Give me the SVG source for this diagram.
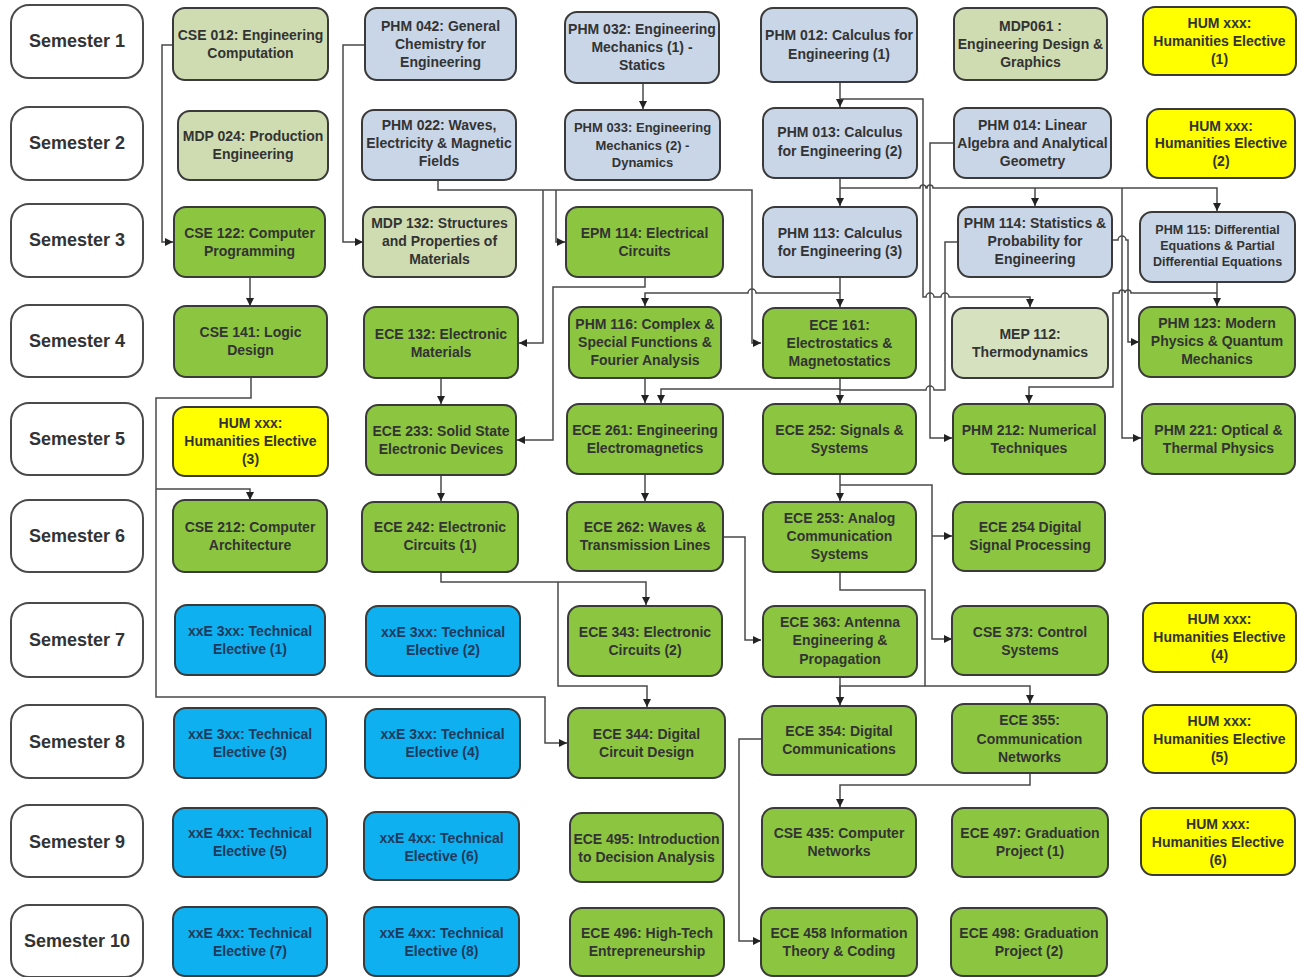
<svg xmlns="http://www.w3.org/2000/svg" width="1303" height="977" viewBox="0 0 1303 977">
<style>
rect{stroke:#3a3a3a;stroke-width:2}
.sem rect{fill:#fff;stroke:#4a4a4a}
.lg rect{fill:#cfdcb1}
.lb rect{fill:#c9d6e7}
.gr rect{fill:#8cc641}
.bl rect{fill:#0fb0ef}
.ye rect{fill:#ffff00}
text{font-family:"Liberation Sans",Arial,sans-serif;font-weight:bold;font-size:14px;fill:#333;text-anchor:middle;dominant-baseline:central}
.sem text{font-size:18px}
.bl text{fill:#1d3a5c}
.sm text{font-size:13px}
.xs text{font-size:12.5px}
#connectors path{fill:none;stroke:#4a4a4a;stroke-width:1.5}
</style>
<defs>
<marker id="ah" viewBox="0 0 10 10" refX="10" refY="5" markerWidth="8" markerHeight="8" markerUnits="userSpaceOnUse" orient="auto"><path d="M0,0 L10,5 L0,10 z" fill="#222"/></marker>
</defs>
<rect x="0" y="0" width="1303" height="977" fill="#fff" style="stroke:none"/>

<g id="connectors">
<path d="M173,45 H162 V242 H173" marker-end="url(#ah)"/>
<path d="M365,45 H343 V242 H363" marker-end="url(#ah)"/>
<path d="M643,83 V109" marker-end="url(#ah)"/>
<path d="M840,80 V107" marker-end="url(#ah)"/>
<path d="M840,99 H923 V297 H926 a4,4 0 0 1 8,0 H941 a4,4 0 0 1 8,0 H1030 V307" marker-end="url(#ah)"/>
<path d="M840,178 V206" marker-end="url(#ah)"/>
<path d="M840,188 H920 a3,3 0 0 1 6,0 H927 a3,3 0 0 1 6,0 H1217 V211" marker-end="url(#ah)"/>
<path d="M1035,188 V206" marker-end="url(#ah)"/>
<path d="M1122,188 V438 H1141" marker-end="url(#ah)"/>
<path d="M954,143 H930 V438 H952" marker-end="url(#ah)"/>
<path d="M438,180 V190 H752 V343 H761" marker-end="url(#ah)"/>
<path d="M556,190 V242 H565" marker-end="url(#ah)"/>
<path d="M543,190 V343 H519" marker-end="url(#ah)"/>
<path d="M645,277 V287 H553 V440 H517" marker-end="url(#ah)"/>
<path d="M840,277 V307" marker-end="url(#ah)"/>
<path d="M840,293 H756 a4,4 0 0 0 -8,0 H645 V306" marker-end="url(#ah)"/>
<path d="M840,378 V403" marker-end="url(#ah)"/>
<path d="M840,389 H661 V403" marker-end="url(#ah)"/>
<path d="M958,242 H945 V390 H934 a4,4 0 0 0 -8,0 H840"/>
<path d="M1112,240 H1118 a4,4 0 0 1 8,0 H1128 V342 H1139" marker-end="url(#ah)"/>
<path d="M1217,282 V306" marker-end="url(#ah)"/>
<path d="M1217,293 H1131 a3,3 0 0 0 -6,0 a3,3 0 0 0 -6,0 H1113 V387 H1029 V403" marker-end="url(#ah)"/>
<path d="M645,378 V403" marker-end="url(#ah)"/>
<path d="M441,378 V404" marker-end="url(#ah)"/>
<path d="M441,475 V501" marker-end="url(#ah)"/>
<path d="M250,277 V306" marker-end="url(#ah)"/>
<path d="M251,377 V398 H156 V697 H545 V743 H567" marker-end="url(#ah)"/>
<path d="M156,489 H250 V500" marker-end="url(#ah)"/>
<path d="M441,572 V582 H646 V605" marker-end="url(#ah)"/>
<path d="M558,582 V686 H647 V707" marker-end="url(#ah)"/>
<path d="M645,474 V501" marker-end="url(#ah)"/>
<path d="M722,537 H745 V640 H761" marker-end="url(#ah)"/>
<path d="M840,474 V501" marker-end="url(#ah)"/>
<path d="M840,485 H932 V639 H952" marker-end="url(#ah)"/>
<path d="M932,536 H952" marker-end="url(#ah)"/>
<path d="M840,572 V590 H925 V686 H1030 V703" marker-end="url(#ah)"/>
<path d="M925,686 H840 V705" marker-end="url(#ah)"/>
<path d="M840,677 V705" marker-end="url(#ah)"/>
<path d="M762,739 H739 V941 H761" marker-end="url(#ah)"/>
<path d="M1030,773 V785 H840 V807" marker-end="url(#ah)"/>
</g>

<!-- Semester labels -->
<g id="sem1" class="sem"><rect x="11" y="5" width="132" height="73" rx="18"/><text x="77" y="41">Semester 1</text></g>
<g id="sem2" class="sem"><rect x="11" y="107" width="132" height="73" rx="18"/><text x="77" y="143">Semester 2</text></g>
<g id="sem3" class="sem"><rect x="11" y="204" width="132" height="73" rx="18"/><text x="77" y="240">Semester 3</text></g>
<g id="sem4" class="sem"><rect x="11" y="305" width="132" height="72" rx="18"/><text x="77" y="341">Semester 4</text></g>
<g id="sem5" class="sem"><rect x="11" y="403" width="132" height="72" rx="18"/><text x="77" y="439">Semester 5</text></g>
<g id="sem6" class="sem"><rect x="11" y="500" width="132" height="72" rx="18"/><text x="77" y="536">Semester 6</text></g>
<g id="sem7" class="sem"><rect x="11" y="603" width="132" height="74" rx="18"/><text x="77" y="640">Semester 7</text></g>
<g id="sem8" class="sem"><rect x="11" y="705" width="132" height="73" rx="18"/><text x="77" y="742">Semester 8</text></g>
<g id="sem9" class="sem"><rect x="11" y="805" width="132" height="72" rx="18"/><text x="77" y="842">Semester 9</text></g>
<g id="sem10" class="sem"><rect x="11" y="905" width="132" height="72" rx="18"/><text x="77" y="941">Semester 10</text></g>

<!-- Row 1 -->
<g id="cse012" class="lg"><rect x="173" y="8" width="155" height="72" rx="12"/><text><tspan x="250.5" y="35">CSE 012: Engineering</tspan><tspan x="250.5" y="53">Computation</tspan></text></g>
<g id="phm042" class="lb"><rect x="365" y="8" width="151" height="72" rx="12"/><text><tspan x="440.5" y="26">PHM 042: General</tspan><tspan x="440.5" y="44">Chemistry for</tspan><tspan x="440.5" y="62">Engineering</tspan></text></g>
<g id="phm032" class="lb"><rect x="565" y="12" width="154" height="71" rx="12"/><text><tspan x="642" y="29">PHM 032: Engineering</tspan><tspan x="642" y="47">Mechanics (1) -</tspan><tspan x="642" y="65">Statics</tspan></text></g>
<g id="phm012" class="lb"><rect x="761" y="8" width="156" height="74" rx="12"/><text><tspan x="839" y="35">PHM 012: Calculus for</tspan><tspan x="839" y="54">Engineering (1)</tspan></text></g>
<g id="mdp061" class="lg"><rect x="954" y="8" width="153" height="72" rx="12"/><text><tspan x="1030.5" y="26">MDP061 :</tspan><tspan x="1030.5" y="44">Engineering Design &amp;</tspan><tspan x="1030.5" y="62">Graphics</tspan></text></g>
<g id="hum1" class="ye"><rect x="1143" y="7" width="153" height="68" rx="12"/><text><tspan x="1219.5" y="23">HUM xxx:</tspan><tspan x="1219.5" y="41">Humanities Elective</tspan><tspan x="1219.5" y="59">(1)</tspan></text></g>

<!-- Row 2 -->
<g id="mdp024" class="lg"><rect x="178" y="111" width="150" height="69" rx="12"/><text><tspan x="253" y="136">MDP 024: Production</tspan><tspan x="253" y="154">Engineering</tspan></text></g>
<g id="phm022" class="lb"><rect x="362" y="110" width="154" height="70" rx="12"/><text><tspan x="439" y="125">PHM 022: Waves,</tspan><tspan x="439" y="143">Electricity &amp; Magnetic</tspan><tspan x="439" y="161">Fields</tspan></text></g>
<g id="phm033" class="lb sm"><rect x="565" y="110" width="155" height="70" rx="12"/><text><tspan x="642.5" y="127">PHM 033: Engineering</tspan><tspan x="642.5" y="145">Mechanics (2) -</tspan><tspan x="642.5" y="162">Dynamics</tspan></text></g>
<g id="phm013" class="lb"><rect x="763" y="108" width="154" height="70" rx="12"/><text><tspan x="840" y="132">PHM 013: Calculus</tspan><tspan x="840" y="151">for Engineering (2)</tspan></text></g>
<g id="phm014" class="lb"><rect x="954" y="108" width="157" height="70" rx="12"/><text><tspan x="1032.5" y="125">PHM 014: Linear</tspan><tspan x="1032.5" y="143">Algebra and Analytical</tspan><tspan x="1032.5" y="161">Geometry</tspan></text></g>
<g id="hum2" class="ye"><rect x="1147" y="109" width="148" height="69" rx="12"/><text><tspan x="1221" y="126">HUM xxx:</tspan><tspan x="1221" y="143">Humanities Elective</tspan><tspan x="1221" y="161">(2)</tspan></text></g>

<!-- Row 3 -->
<g id="cse122" class="gr"><rect x="174" y="207" width="151" height="70" rx="12"/><text><tspan x="249.5" y="233">CSE 122: Computer</tspan><tspan x="249.5" y="251">Programming</tspan></text></g>
<g id="mdp132" class="lg"><rect x="363" y="207" width="153" height="70" rx="12"/><text><tspan x="439.5" y="223">MDP 132: Structures</tspan><tspan x="439.5" y="241">and Properties of</tspan><tspan x="439.5" y="259">Materials</tspan></text></g>
<g id="epm114" class="gr"><rect x="566" y="207" width="157" height="70" rx="12"/><text><tspan x="644.5" y="233">EPM 114: Electrical</tspan><tspan x="644.5" y="251">Circuits</tspan></text></g>
<g id="phm113" class="lb"><rect x="763" y="207" width="154" height="70" rx="12"/><text><tspan x="840" y="233">PHM 113: Calculus</tspan><tspan x="840" y="251">for Engineering (3)</tspan></text></g>
<g id="phm114" class="lb"><rect x="958" y="207" width="154" height="70" rx="12"/><text><tspan x="1035" y="223">PHM 114: Statistics &amp;</tspan><tspan x="1035" y="241">Probability for</tspan><tspan x="1035" y="259">Engineering</tspan></text></g>
<g id="phm115" class="lb xs"><rect x="1140" y="212" width="155" height="70" rx="12"/><text><tspan x="1217.5" y="230">PHM 115: Differential</tspan><tspan x="1217.5" y="246">Equations &amp; Partial</tspan><tspan x="1217.5" y="262">Differential Equations</tspan></text></g>

<!-- Row 4 -->
<g id="cse141" class="gr"><rect x="174" y="306" width="153" height="71" rx="12"/><text><tspan x="250.5" y="332">CSE 141: Logic</tspan><tspan x="250.5" y="350">Design</tspan></text></g>
<g id="ece132" class="gr"><rect x="364" y="307" width="154" height="71" rx="12"/><text><tspan x="441" y="334">ECE 132: Electronic</tspan><tspan x="441" y="352">Materials</tspan></text></g>
<g id="phm116" class="gr"><rect x="569" y="307" width="152" height="71" rx="12"/><text><tspan x="645" y="324">PHM 116: Complex &amp;</tspan><tspan x="645" y="342">Special Functions &amp;</tspan><tspan x="645" y="360">Fourier Analysis</tspan></text></g>
<g id="ece161" class="gr"><rect x="763" y="308" width="153" height="70" rx="12"/><text><tspan x="839.5" y="325">ECE 161:</tspan><tspan x="839.5" y="343">Electrostatics &amp;</tspan><tspan x="839.5" y="361">Magnetostatics</tspan></text></g>
<g id="mep112" class="lg"><rect x="952" y="308" width="156" height="70" rx="12" style="fill:#d6e1c0"/><text><tspan x="1030" y="334">MEP 112:</tspan><tspan x="1030" y="352">Thermodynamics</tspan></text></g>
<g id="phm123" class="gr"><rect x="1139" y="307" width="156" height="70" rx="12"/><text><tspan x="1217" y="323">PHM 123: Modern</tspan><tspan x="1217" y="341">Physics &amp; Quantum</tspan><tspan x="1217" y="359">Mechanics</tspan></text></g>

<!-- Row 5 -->
<g id="hum3" class="ye"><rect x="173" y="407" width="155" height="69" rx="12"/><text><tspan x="250.5" y="423">HUM xxx:</tspan><tspan x="250.5" y="441">Humanities Elective</tspan><tspan x="250.5" y="459">(3)</tspan></text></g>
<g id="ece233" class="gr"><rect x="366" y="405" width="150" height="70" rx="12"/><text><tspan x="441" y="431">ECE 233: Solid State</tspan><tspan x="441" y="449">Electronic Devices</tspan></text></g>
<g id="ece261" class="gr"><rect x="567" y="404" width="156" height="70" rx="12"/><text><tspan x="645" y="430">ECE 261: Engineering</tspan><tspan x="645" y="448">Electromagnetics</tspan></text></g>
<g id="ece252" class="gr"><rect x="763" y="404" width="153" height="70" rx="12"/><text><tspan x="839.5" y="430">ECE 252: Signals &amp;</tspan><tspan x="839.5" y="448">Systems</tspan></text></g>
<g id="phm212" class="gr"><rect x="953" y="404" width="152" height="70" rx="12"/><text><tspan x="1029" y="430">PHM 212: Numerical</tspan><tspan x="1029" y="448">Techniques</tspan></text></g>
<g id="phm221" class="gr"><rect x="1142" y="404" width="153" height="70" rx="12"/><text><tspan x="1218.5" y="430">PHM 221: Optical &amp;</tspan><tspan x="1218.5" y="448">Thermal Physics</tspan></text></g>

<!-- Row 6 -->
<g id="cse212" class="gr"><rect x="173" y="500" width="154" height="72" rx="12"/><text><tspan x="250" y="527">CSE 212: Computer</tspan><tspan x="250" y="545">Architecture</tspan></text></g>
<g id="ece242" class="gr"><rect x="362" y="502" width="156" height="70" rx="12"/><text><tspan x="440" y="527">ECE 242: Electronic</tspan><tspan x="440" y="545">Circuits (1)</tspan></text></g>
<g id="ece262" class="gr"><rect x="567" y="502" width="156" height="69" rx="12"/><text><tspan x="645" y="527">ECE 262: Waves &amp;</tspan><tspan x="645" y="545">Transmission Lines</tspan></text></g>
<g id="ece253" class="gr"><rect x="763" y="502" width="153" height="70" rx="12"/><text><tspan x="839.5" y="518">ECE 253: Analog</tspan><tspan x="839.5" y="536">Communication</tspan><tspan x="839.5" y="554">Systems</tspan></text></g>
<g id="ece254" class="gr"><rect x="953" y="502" width="152" height="69" rx="12"/><text><tspan x="1030" y="527">ECE 254 Digital</tspan><tspan x="1030" y="545">Signal Processing</tspan></text></g>

<!-- Row 7 -->
<g id="te1" class="bl"><rect x="175" y="605" width="150" height="70" rx="12"/><text><tspan x="250" y="631">xxE 3xx: Technical</tspan><tspan x="250" y="649">Elective (1)</tspan></text></g>
<g id="te2" class="bl"><rect x="366" y="606" width="154" height="70" rx="12"/><text><tspan x="443" y="632">xxE 3xx: Technical</tspan><tspan x="443" y="650">Elective (2)</tspan></text></g>
<g id="ece343" class="gr"><rect x="568" y="606" width="154" height="70" rx="12"/><text><tspan x="645" y="632">ECE 343: Electronic</tspan><tspan x="645" y="650">Circuits (2)</tspan></text></g>
<g id="ece363" class="gr"><rect x="763" y="606" width="154" height="71" rx="12"/><text><tspan x="840" y="622">ECE 363: Antenna</tspan><tspan x="840" y="640">Engineering &amp;</tspan><tspan x="840" y="659">Propagation</tspan></text></g>
<g id="cse373" class="gr"><rect x="952" y="606" width="156" height="69" rx="12"/><text><tspan x="1030" y="632">CSE 373: Control</tspan><tspan x="1030" y="650">Systems</tspan></text></g>
<g id="hum4" class="ye"><rect x="1143" y="603" width="153" height="69" rx="12"/><text><tspan x="1219.5" y="619">HUM xxx:</tspan><tspan x="1219.5" y="637">Humanities Elective</tspan><tspan x="1219.5" y="655">(4)</tspan></text></g>

<!-- Row 8 -->
<g id="te3" class="bl"><rect x="174" y="708" width="152" height="70" rx="12"/><text><tspan x="250" y="734">xxE 3xx: Technical</tspan><tspan x="250" y="752">Elective (3)</tspan></text></g>
<g id="te4" class="bl"><rect x="365" y="709" width="155" height="69" rx="12"/><text><tspan x="442.5" y="734">xxE 3xx: Technical</tspan><tspan x="442.5" y="752">Elective (4)</tspan></text></g>
<g id="ece344" class="gr"><rect x="568" y="708" width="157" height="70" rx="12"/><text><tspan x="646.5" y="734">ECE 344: Digital</tspan><tspan x="646.5" y="752">Circuit Design</tspan></text></g>
<g id="ece354" class="gr"><rect x="762" y="706" width="154" height="69" rx="12"/><text><tspan x="839" y="731">ECE 354: Digital</tspan><tspan x="839" y="749">Communications</tspan></text></g>
<g id="ece355" class="gr"><rect x="952" y="704" width="155" height="69" rx="12"/><text><tspan x="1029.5" y="720">ECE 355:</tspan><tspan x="1029.5" y="739">Communication</tspan><tspan x="1029.5" y="757">Networks</tspan></text></g>
<g id="hum5" class="ye"><rect x="1143" y="705" width="153" height="68" rx="12"/><text><tspan x="1219.5" y="721">HUM xxx:</tspan><tspan x="1219.5" y="739">Humanities Elective</tspan><tspan x="1219.5" y="757">(5)</tspan></text></g>

<!-- Row 9 -->
<g id="te5" class="bl"><rect x="173" y="808" width="154" height="69" rx="12"/><text><tspan x="250" y="833">xxE 4xx: Technical</tspan><tspan x="250" y="851">Elective (5)</tspan></text></g>
<g id="te6" class="bl"><rect x="364" y="812" width="155" height="68" rx="12"/><text><tspan x="441.5" y="838">xxE 4xx: Technical</tspan><tspan x="441.5" y="856">Elective (6)</tspan></text></g>
<g id="ece495" class="gr"><rect x="570" y="813" width="153" height="69" rx="12"/><text><tspan x="646.5" y="839">ECE 495: Introduction</tspan><tspan x="646.5" y="857">to Decision Analysis</tspan></text></g>
<g id="cse435" class="gr"><rect x="762" y="808" width="154" height="69" rx="12"/><text><tspan x="839" y="833">CSE 435: Computer</tspan><tspan x="839" y="851">Networks</tspan></text></g>
<g id="ece497" class="gr"><rect x="952" y="808" width="156" height="69" rx="12"/><text><tspan x="1030" y="833">ECE 497: Graduation</tspan><tspan x="1030" y="851">Project (1)</tspan></text></g>
<g id="hum6" class="ye"><rect x="1141" y="808" width="154" height="67" rx="12"/><text><tspan x="1218" y="824">HUM xxx:</tspan><tspan x="1218" y="842">Humanities Elective</tspan><tspan x="1218" y="860">(6)</tspan></text></g>

<!-- Row 10 -->
<g id="te7" class="bl"><rect x="173" y="907" width="154" height="69" rx="12"/><text><tspan x="250" y="933">xxE 4xx: Technical</tspan><tspan x="250" y="951">Elective (7)</tspan></text></g>
<g id="te8" class="bl"><rect x="364" y="907" width="155" height="69" rx="12"/><text><tspan x="441.5" y="933">xxE 4xx: Technical</tspan><tspan x="441.5" y="951">Elective (8)</tspan></text></g>
<g id="ece496" class="gr"><rect x="570" y="908" width="154" height="68" rx="12"/><text><tspan x="647" y="933">ECE 496: High-Tech</tspan><tspan x="647" y="951">Entrepreneurship</tspan></text></g>
<g id="ece458" class="gr"><rect x="761" y="908" width="156" height="68" rx="12"/><text><tspan x="839" y="933">ECE 458 Information</tspan><tspan x="839" y="951">Theory &amp; Coding</tspan></text></g>
<g id="ece498" class="gr"><rect x="951" y="908" width="156" height="68" rx="12"/><text><tspan x="1029" y="933">ECE 498: Graduation</tspan><tspan x="1029" y="951">Project (2)</tspan></text></g>
</svg>
